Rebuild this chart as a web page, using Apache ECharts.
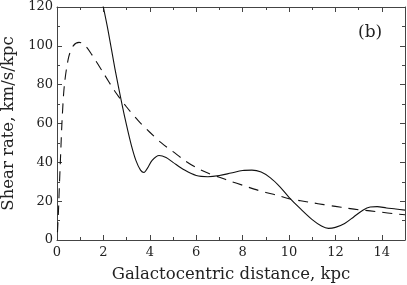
<!DOCTYPE html>
<html>
<head>
<meta charset="utf-8">
<script src="https://cdn.jsdelivr.net/npm/echarts@6/dist/echarts.min.js"></script>
<style>
  html, body { margin: 0; padding: 0; background: #fff; }
  #chart { width: 407px; height: 285px; }
</style>
</head>
<body>
<div id="chart"></div>
<script>
// shear rate (solid) and the smooth model curve (dashed), km/s/kpc vs R in kpc
var solidCurve = [
  [1.98, 121], [2.2, 108], [2.5, 88], [2.8, 70], [3.0, 59], [3.2, 49],
  [3.4, 41], [3.6, 36], [3.75, 34.8], [3.9, 37], [4.1, 41], [4.4, 43.5],
  [4.7, 42.5], [5.0, 40], [5.5, 36], [6.0, 33.2], [6.5, 32.6], [7.0, 33.2],
  [7.5, 34.5], [8.0, 35.8], [8.4, 36], [8.8, 35], [9.2, 32], [9.6, 27.5],
  [10.0, 22], [10.5, 16], [11.0, 10.5], [11.4, 7.2], [11.7, 6], [12.0, 6.5],
  [12.4, 8.5], [12.8, 12], [13.2, 15.5], [13.5, 17], [13.8, 17.2],
  [14.2, 16.5], [14.6, 16], [15.0, 15.4]
];
var dashedCurve = [
  [0.02, 4], [0.06, 14], [0.1, 27], [0.16, 45], [0.22, 62], [0.32, 80],
  [0.5, 94], [0.7, 100], [0.95, 101.8], [1.2, 100.3], [1.5, 95.5],
  [2.0, 86], [2.5, 76.5], [3.0, 68.5], [3.5, 61.5], [4.0, 55.5], [4.5, 50],
  [5.0, 45.5], [5.5, 41], [6.0, 37.3], [6.5, 34.5], [7.0, 32.3], [7.5, 30.2],
  [8.0, 28.2], [8.5, 26.2], [9.0, 24.5], [9.5, 23], [10.0, 21.2],
  [10.5, 20.2], [11.0, 19.2], [11.5, 18.2], [12.0, 17.3], [12.5, 16.4],
  [13.0, 15.6], [13.5, 15], [14.0, 14.3], [14.5, 13.6], [15.0, 13]
];
var xTicks = [0, 2, 4, 6, 8, 10, 12, 14];
var yTicks = [0, 20, 40, 60, 80, 100, 120];

var FONT = 'DejaVu Serif';
var AXIS_COLOR = '#444';
var GRID = { left: 57, right: 2, top: 7, bottom: 45, containLabel: false, outerBoundsMode: 'none' };

// grid 0 carries the major ticks and labels, grid 1 (same box) the minor x ticks
function xAx(grid, pos, major, labels) {
  return {
    type: 'value', min: 0, max: 15, interval: major ? 2 : 1,
    position: pos, gridIndex: grid,
    axisLine: { show: major, onZero: false, lineStyle: { color: AXIS_COLOR, width: 1 } },
    axisTick: { show: true, inside: true, length: major ? 5 : 3,
      lineStyle: { color: AXIS_COLOR } },
    axisLabel: {
      show: labels, margin: 6, color: '#222', fontFamily: FONT, fontSize: 13,
      showMaxLabel: false,
      formatter: function (v) { return xTicks.indexOf(v) >= 0 ? String(v) : ''; }
    },
    splitLine: { show: false },
    name: labels ? 'Galactocentric distance, kpc' : '',
    nameLocation: 'middle', nameGap: 26,
    nameTextStyle: { color: '#222', fontFamily: FONT, fontSize: 16.5 }
  };
}

function yAx(grid, pos, labels, visible) {
  return {
    type: 'value', min: 0, max: 120, interval: 20, position: pos, gridIndex: grid,
    show: visible,
    axisLine: { show: true, onZero: false, lineStyle: { color: AXIS_COLOR, width: 1 } },
    axisTick: { show: true, inside: true, length: 5, lineStyle: { color: AXIS_COLOR } },
    minorTick: { show: true, splitNumber: 2, length: 3, lineStyle: { color: AXIS_COLOR } },
    axisLabel: {
      show: labels, margin: 4, color: '#222', fontFamily: FONT, fontSize: 13,
      formatter: function (v) { return yTicks.indexOf(v) >= 0 ? String(v) : ''; }
    },
    splitLine: { show: false },
    name: labels ? 'Shear rate, km/s/kpc' : '',
    nameLocation: 'middle', nameGap: 36,
    nameTextStyle: { color: '#222', fontFamily: FONT, fontSize: 16.5 }
  };
}

var chart = echarts.init(document.getElementById('chart'), null, { renderer: 'canvas' });
chart.setOption({
  backgroundColor: '#fff',
  animation: false,
  grid: [GRID, GRID],
  xAxis: [
    xAx(0, 'bottom', true, true), xAx(0, 'top', true, false),
    xAx(1, 'bottom', false, false), xAx(1, 'top', false, false)
  ],
  yAxis: [
    yAx(0, 'left', true, true), yAx(0, 'right', false, true),
    yAx(1, 'left', false, false)
  ],
  graphic: [{
    type: 'text', left: 358, top: 24,
    style: { text: '(b)', font: '17px "' + FONT + '"', fill: '#222' }
  }],
  series: [
    {
      type: 'line', data: solidCurve, xAxisIndex: 0, yAxisIndex: 0,
      showSymbol: false, smooth: 0.3, clip: true,
      lineStyle: { color: '#111', width: 1.1 }
    },
    {
      type: 'line', data: dashedCurve, xAxisIndex: 0, yAxisIndex: 0,
      showSymbol: false, smooth: 0.3, clip: true,
      lineStyle: { color: '#111', width: 1.1, type: [10, 7] }
    }
  ]
});
</script>
</body>
</html>
